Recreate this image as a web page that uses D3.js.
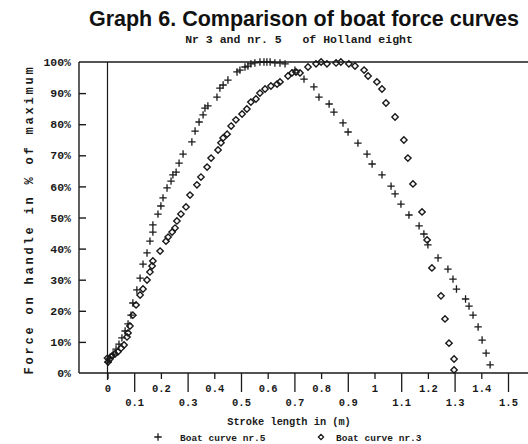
<!DOCTYPE html>
<html>
<head>
<meta charset="utf-8">
<script src="https://cdn.jsdelivr.net/npm/d3@7/dist/d3.min.js"></script>
<style>
  html, body { margin: 0; padding: 0; background: #fff; }
  svg { display: block; }
  .mono { font-family: "Liberation Mono", "DejaVu Sans Mono", monospace; font-weight: bold; fill: #1a1a1a; }
</style>
</head>
<body>
<svg id="chart" width="528" height="444"></svg>
<script>
// Stroke length (m) and handle force (% of maximum) for boat curve nr.5
const boat5X = [0.002,0.009,0.021,0.032,0.043,0.054,0.066,0.077,0.088,0.095,0.110,0.122,0.133,0.148,0.159,0.170,0.170,0.189,0.200,0.208,0.223,0.238,0.245,0.257,0.268,0.283,0.316,0.328,0.343,0.358,0.365,0.376,0.410,0.421,0.433,0.451,0.485,0.496,0.515,0.526,0.537,0.552,0.571,0.586,0.597,0.609,0.627,0.646,0.665,0.702,0.736,0.773,0.792,0.830,0.848,0.882,0.901,0.938,0.972,0.991,1.028,1.062,1.077,1.099,1.129,1.167,1.185,1.200,1.238,1.275,1.294,1.307,1.341,1.354,1.369,1.388,1.403,1.418,1.433];
const boat5Y = [3.5,4.8,6.1,7.7,9.3,11.3,13.5,15.8,18.6,22.5,26.7,30.5,35.0,38.6,42.4,45.3,47.6,51.1,53.7,56.3,59.5,61.7,63.7,64.6,67.5,70.4,74.3,77.8,80.7,83.0,85.2,85.9,88.7,91.6,92.6,94.2,96.8,97.4,98.4,98.7,99.4,99.7,100,100,100,100,99.7,99.7,99.4,97.4,94.5,92.0,88.7,86.5,83.9,80.4,77.5,73.9,70.4,67.2,63.7,60.1,57.6,54.3,50.8,47.3,44.7,41.2,37.0,33.4,30.2,27.0,23.8,21.5,18.6,14.8,10.6,6.4,2.6];

// Stroke length (m) and handle force (% of maximum) for boat curve nr.3
const boat3X = [0.000,0.002,0.009,0.017,0.028,0.039,0.051,0.062,0.073,0.077,0.084,0.095,0.107,0.122,0.133,0.148,0.159,0.167,0.170,0.197,0.219,0.227,0.242,0.253,0.260,0.275,0.294,0.309,0.335,0.350,0.373,0.388,0.414,0.425,0.433,0.448,0.463,0.481,0.504,0.522,0.537,0.556,0.571,0.590,0.612,0.635,0.646,0.676,0.691,0.706,0.721,0.751,0.781,0.800,0.822,0.856,0.874,0.904,0.927,0.961,0.976,1.009,1.028,1.043,1.077,1.110,1.125,1.144,1.178,1.197,1.215,1.249,1.264,1.279,1.298,1.298];
const boat3Y = [4.8,3.5,4.5,5.5,6.1,6.8,8.0,9.0,11.6,12.9,15.1,18.6,21.9,25.1,27.0,29.9,32.5,34.4,36.0,39.2,42.4,43.7,45.3,46.6,48.9,51.1,53.4,57.2,60.5,63.0,66.2,69.1,71.7,74.0,75.6,76.8,79.4,81.4,83.3,84.9,87.1,88.1,90.0,91.3,92.3,92.9,93.6,95.5,96.5,96.8,96.5,98.4,99.4,100,99.4,99.7,100,99.4,98.7,97.4,95.5,93.6,91.3,86.8,82.3,74.9,69.1,60.8,51.8,42.8,33.8,24.8,17.4,9.6,4.5,1.0];

const xTicksEven = [0, 0.2, 0.4, 0.6, 0.8, 1, 1.2, 1.4];
const xTicksOdd = [0.1, 0.3, 0.5, 0.7, 0.9, 1.1, 1.3, 1.5];
const yTicks = [0, 10, 20, 30, 40, 50, 60, 70, 80, 90, 100];

const titleText = "Graph 6. Comparison of boat force curves";
const subtitleText = "Nr 3 and nr. 5   of Holland eight";
const xTitle = "Stroke length in (m)";
const yTitle = "Force on handle in % of maximum";
const legendLabels = ["Boat curve nr.5", "Boat curve nr.3"];

const svg = d3.select("#chart");
const ink = "#1a1a1a";

const plotLeft = 79, plotRight = 528, plotTop = 62, plotBottom = 373;
const x = d3.scaleLinear().domain([0, 1.5]).range([107.5, 508]);
const y = d3.scaleLinear().domain([0, 100]).range([plotBottom, plotTop]);

// Titles
svg.append("text")
  .attr("x", 304).attr("y", 26)
  .attr("text-anchor", "middle")
  .style("font-family", "'Liberation Sans', Arial, sans-serif")
  .style("font-weight", "bold")
  .style("font-size", "21.5px")
  .style("fill", "#111")
  .text(titleText);

svg.append("text")
  .attr("class", "mono")
  .attr("x", 299).attr("y", 43)
  .attr("text-anchor", "middle")
  .style("font-size", "11.5px")
  .attr("xml:space", "preserve")
  .text(subtitleText);

// Frame: left edge, top edge, bottom axis line
const frame = svg.append("g").attr("stroke", ink).attr("stroke-width", 1.4).attr("fill", "none");
frame.append("line").attr("x1", plotLeft).attr("x2", plotLeft).attr("y1", plotTop).attr("y2", plotBottom);
frame.append("line").attr("x1", plotLeft).attr("x2", plotRight).attr("y1", plotTop).attr("y2", plotTop);
frame.append("line").attr("x1", plotLeft).attr("x2", plotRight).attr("y1", plotBottom).attr("y2", plotBottom);

// Zero stroke-length line
svg.append("line")
  .attr("x1", x(0)).attr("x2", x(0))
  .attr("y1", plotTop).attr("y2", plotBottom + 7)
  .attr("stroke", ink).attr("stroke-width", 1.2);

// Y axis: inward ticks, percentage labels
const yAxis = d3.axisLeft(y).tickValues(yTicks).tickSize(-7).tickPadding(8)
  .tickFormat(d => d + "%");
const gy = svg.append("g").attr("transform", `translate(${plotLeft},0)`).call(yAxis);
gy.select(".domain").remove();
gy.selectAll(".tick line").attr("stroke", ink).attr("stroke-width", 1.4)
  .filter(d => d === 0 || d === 100).remove();
gy.selectAll(".tick text").attr("class", "mono").style("font-size", "11.5px").attr("fill", ink);

// X axis: short ticks with labels on the upper row
const gxEven = svg.append("g").attr("transform", `translate(0,${plotBottom})`)
  .call(d3.axisBottom(x).tickValues(xTicksEven).tickSize(6).tickPadding(6)
    .tickFormat(d => d3.format("")(d)));
gxEven.select(".domain").remove();
gxEven.selectAll(".tick line").attr("stroke", ink).attr("stroke-width", 1.3);
gxEven.selectAll(".tick text").attr("class", "mono").style("font-size", "10.5px").attr("fill", ink);

// X axis: long ticks with labels on the lower row
const gxOdd = svg.append("g").attr("transform", `translate(0,${plotBottom})`)
  .call(d3.axisBottom(x).tickValues(xTicksOdd).tickSize(19).tickPadding(7)
    .tickFormat(d => d3.format("")(d)));
gxOdd.select(".domain").remove();
gxOdd.selectAll(".tick line").attr("stroke", ink).attr("stroke-width", 1.3);
gxOdd.selectAll(".tick text").attr("class", "mono").style("font-size", "10.5px").attr("fill", ink);

// Axis titles
svg.append("text")
  .attr("class", "mono")
  .attr("x", 289).attr("y", 425)
  .attr("text-anchor", "middle")
  .style("font-size", "10.3px")
  .text(xTitle);

svg.append("text")
  .attr("class", "mono")
  .attr("transform", `translate(33,${(plotTop + plotBottom) / 2 + 2}) rotate(-90)`)
  .attr("text-anchor", "middle")
  .style("font-size", "12px")
  .style("letter-spacing", "2.8px")
  .text(yTitle);

// Marker shapes
const plusPath = "M-3.7,0H3.7M0,-3.7V3.7";
const diamondPath = "M0,-3.2L3.2,0L0,3.2L-3.2,0Z";

const series5 = boat5X.map((v, i) => ({ x: v, y: boat5Y[i] }));
const series3 = boat3X.map((v, i) => ({ x: v, y: boat3Y[i] }));

svg.append("g").selectAll("path").data(series3).join("path")
  .attr("d", diamondPath)
  .attr("transform", d => `translate(${x(d.x)},${y(d.y)})`)
  .attr("fill", "none").attr("stroke", ink).attr("stroke-width", 1.4);

svg.append("g").selectAll("path").data(series5).join("path")
  .attr("d", plusPath)
  .attr("transform", d => `translate(${x(d.x)},${y(d.y)})`)
  .attr("fill", "none").attr("stroke", ink).attr("stroke-width", 1.3);

// Legend
const legend = svg.append("g");
legend.append("path").attr("d", plusPath).attr("transform", "translate(158,437)")
  .attr("fill", "none").attr("stroke", ink).attr("stroke-width", 1.3);
legend.append("text").attr("class", "mono").attr("x", 180).attr("y", 441)
  .style("font-size", "9.5px").text(legendLabels[0]);
legend.append("path").attr("d", "M0,-2.6L2.6,0L0,2.6L-2.6,0Z").attr("transform", "translate(321,437)")
  .attr("fill", "none").attr("stroke", ink).attr("stroke-width", 1.3);
legend.append("text").attr("class", "mono").attr("x", 336).attr("y", 441)
  .style("font-size", "9.5px").text(legendLabels[1]);
</script>
</body>
</html>
